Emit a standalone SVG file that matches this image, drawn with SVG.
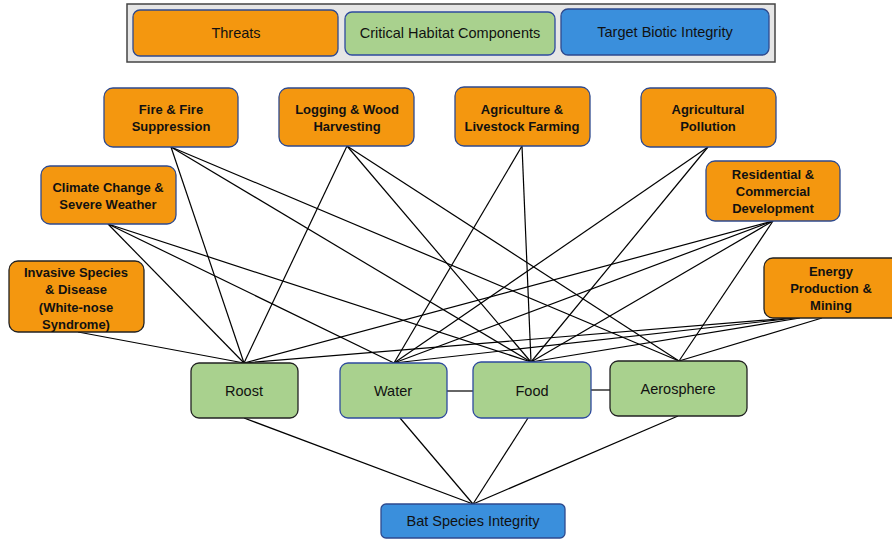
<svg xmlns="http://www.w3.org/2000/svg" width="892" height="539" viewBox="0 0 892 539">
<style>
.threat{fill:#F4970F;stroke:#2E4A8E;stroke-width:1.3}
.threatd{fill:#F4970F;stroke:#222;stroke-width:1.3}
.hab{fill:#A9D18E;stroke:#222;stroke-width:1.3}
.habb{fill:#A9D18E;stroke:#2E4A9E;stroke-width:1.3}
.bio{fill:#3A8FDC;stroke:#2E4A8E;stroke-width:1.3}
.tb{font-family:"Liberation Sans",Arial,sans-serif;font-weight:bold;font-size:13px;fill:#111;text-anchor:middle}
.tn{font-family:"Liberation Sans",Arial,sans-serif;font-size:14.5px;fill:#111;text-anchor:middle}
#connectors line{stroke:#000;stroke-width:1.2}
</style>
<rect width="892" height="539" fill="#fff"/>
<g id="legend">
<rect x="127" y="4" width="648" height="58" fill="#E6E6E6" stroke="#444" stroke-width="1.5"/>
<rect class="threat" x="133" y="10" width="205" height="46" rx="7"/>
<text class="tn" x="236" y="38">Threats</text>
<rect class="habb" x="345" y="12" width="210" height="43" rx="7"/>
<text class="tn" x="450" y="38">Critical Habitat Components</text>
<rect class="bio" x="561" y="9" width="208" height="46" rx="7"/>
<text class="tn" x="665" y="37">Target Biotic Integrity</text>
</g>
<g id="connectors">
<!-- Fire -->
<line x1="171" y1="147" x2="244" y2="363"/>
<line x1="171" y1="147" x2="531" y2="362"/>
<line x1="171" y1="147" x2="679" y2="361"/>
<!-- Logging -->
<line x1="347" y1="146" x2="244" y2="363"/>
<line x1="347" y1="146" x2="531" y2="362"/>
<line x1="347" y1="146" x2="679" y2="361"/>
<!-- Agriculture -->
<line x1="522" y1="146" x2="394" y2="363"/>
<line x1="522" y1="146" x2="531" y2="362"/>
<!-- Ag pollution -->
<line x1="708" y1="147" x2="394" y2="363"/>
<line x1="708" y1="147" x2="531" y2="362"/>
<!-- Climate -->
<line x1="108" y1="224" x2="244" y2="363"/>
<line x1="108" y1="224" x2="394" y2="363"/>
<line x1="108" y1="224" x2="531" y2="362"/>
<!-- Residential -->
<line x1="773" y1="221" x2="244" y2="363"/>
<line x1="773" y1="221" x2="394" y2="363"/>
<line x1="773" y1="221" x2="531" y2="362"/>
<line x1="773" y1="221" x2="679" y2="361"/>
<!-- Invasive -->
<line x1="78" y1="332" x2="244" y2="363"/>
<!-- Energy -->
<line x1="790" y1="318" x2="244" y2="363"/>
<line x1="795" y1="318" x2="394" y2="363"/>
<line x1="800" y1="318" x2="531" y2="362"/>
<line x1="822" y1="318" x2="679" y2="361"/>
<!-- habitat links -->
<line x1="447" y1="391" x2="473" y2="391"/>
<line x1="591" y1="390" x2="610" y2="390"/>
<!-- to bat -->
<line x1="244" y1="418" x2="473" y2="504"/>
<line x1="400" y1="418" x2="473" y2="504"/>
<line x1="528" y1="418" x2="473" y2="504"/>
<line x1="678" y1="416" x2="473" y2="504"/>
</g>
<g id="fire">
<rect class="threat" x="104" y="88" width="134" height="59" rx="9"/>
<text class="tb" x="171" y="114">Fire &amp; Fire</text>
<text class="tb" x="171" y="131">Suppression</text>
</g>
<g id="logging">
<rect class="threat" x="279" y="88" width="135" height="58" rx="9"/>
<text class="tb" x="347" y="114">Logging &amp; Wood</text>
<text class="tb" x="347" y="131">Harvesting</text>
</g>
<g id="agriculture">
<rect class="threat" x="455" y="87" width="135" height="59" rx="9"/>
<text class="tb" x="522" y="114">Agriculture &amp;</text>
<text class="tb" x="522" y="131">Livestock Farming</text>
</g>
<g id="agpollution">
<rect class="threat" x="641" y="88" width="135" height="59" rx="9"/>
<text class="tb" x="708" y="114">Agricultural</text>
<text class="tb" x="708" y="131">Pollution</text>
</g>
<g id="climate">
<rect class="threat" x="41" y="166" width="135" height="58" rx="9"/>
<text class="tb" x="108" y="192">Climate Change &amp;</text>
<text class="tb" x="108" y="209">Severe Weather</text>
</g>
<g id="residential">
<rect class="threat" x="706" y="161" width="134" height="60" rx="9"/>
<text class="tb" x="773" y="179">Residential &amp;</text>
<text class="tb" x="773" y="196">Commercial</text>
<text class="tb" x="773" y="213">Development</text>
</g>
<g id="invasive">
<rect class="threatd" x="9" y="261" width="135" height="71" rx="9"/>
<text class="tb" x="76" y="277">Invasive Species</text>
<text class="tb" x="76" y="294">&amp; Disease</text>
<text class="tb" x="76" y="312">(White-nose</text>
<text class="tb" x="76" y="329">Syndrome)</text>
</g>
<g id="energy">
<rect class="threatd" x="764" y="258" width="140" height="60" rx="9"/>
<text class="tb" x="831" y="276">Energy</text>
<text class="tb" x="831" y="293">Production &amp;</text>
<text class="tb" x="831" y="310">Mining</text>
</g>
<g id="roost">
<rect class="hab" x="191" y="363" width="107" height="55" rx="8"/>
<text class="tn" x="244" y="396">Roost</text>
</g>
<g id="water">
<rect class="habb" x="340" y="363" width="107" height="55" rx="8"/>
<text class="tn" x="393" y="396">Water</text>
</g>
<g id="food">
<rect class="habb" x="473" y="362" width="118" height="56" rx="8"/>
<text class="tn" x="532" y="396">Food</text>
</g>
<g id="aerosphere">
<rect class="hab" x="610" y="361" width="137" height="55" rx="8"/>
<text class="tn" x="678" y="394">Aerosphere</text>
</g>
<g id="bat">
<rect class="bio" x="381" y="504" width="184" height="34" rx="5"/>
<text class="tn" x="473" y="526">Bat Species Integrity</text>
</g>
</svg>
